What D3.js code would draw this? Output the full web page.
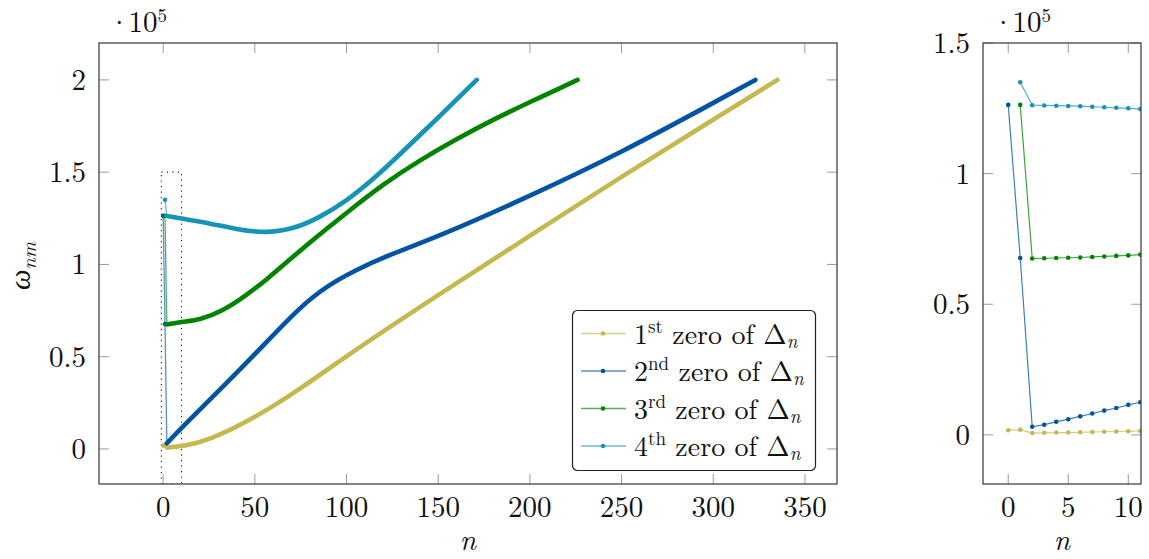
<!DOCTYPE html>
<html><head><meta charset="utf-8">
<script src="https://cdn.jsdelivr.net/npm/d3@7/dist/d3.min.js"></script>
<style>
body{margin:0;background:#fff;}
svg text{font-family:"Latin Modern Roman","CMU Serif","Liberation Serif","DejaVu Serif",serif;fill:#111;}
</style></head>
<body><svg id="chart" width="1149" height="559"></svg>
<script>
// ---- data (values in units of 10^5) ----
const seriesNames = ["1st", "2nd", "3rd", "4th"];
const seriesColors = ["#c4b951", "#0054a3", "#008400", "#1694b8"];
// values at integer n
const zero1Detail = [[0,0.018],[1,0.020],[2,0.007],[3,0.008],[4,0.009],[5,0.009],[6,0.010],[7,0.011],[8,0.012],[9,0.013],[10,0.014],[11,0.015]];
const zero2Detail = [[0,1.263],[1,0.677],[2,0.031],[3,0.039],[4,0.050],[5,0.060],[6,0.071],[7,0.082],[8,0.093],[9,0.103],[10,0.115],[11,0.125]];
const zero3Detail = [[1,1.263],[2,0.675],[3,0.676],[4,0.677],[5,0.678],[6,0.679],[7,0.681],[8,0.683],[9,0.685],[10,0.687],[11,0.690]];
const zero4Detail = [[1,1.350],[2,1.262],[3,1.261],[4,1.260],[5,1.259],[6,1.258],[7,1.256],[8,1.254],[9,1.252],[10,1.250],[11,1.247]];
// values further along n
const zero1Far = [[25,0.046],[50,0.168],[75,0.326],[100,0.505],[150,0.835],[200,1.155],[250,1.477],[300,1.785],[335,2.0]];
const zero2Far = [[25,0.262],[50,0.512],[75,0.775],[90,0.888],[105,0.968],[120,1.040],[150,1.150],[200,1.370],[250,1.607],[300,1.875],[323,2.0]];
const zero3Far = [[20,0.700],[32,0.745],[45,0.830],[57,0.922],[70,1.035],[85,1.160],[100,1.280],[120,1.435],[140,1.565],[160,1.680],[180,1.785],[200,1.880],[226,2.0]];
const zero4Far = [[25,1.224],[40,1.190],[55,1.170],[70,1.188],[85,1.252],[100,1.343],[115,1.465],[130,1.605],[150,1.795],[171,2.0]];

const mainXTicks = [0,50,100,150,200,250,300,350];
const mainYTicks = [0,0.5,1,1.5,2];
const zoomXTicks = [0,5,10];
const zoomYTicks = [0,0.5,1,1.5];
const yTickLabel = {0:"0",0.5:"0.5",1:"1",1.5:"1.5",2:"2"};
const zoomBox = {n0:-1, n1:10, w0:-0.19, w1:1.5};

const details = [zero1Detail, zero2Detail, zero3Detail, zero4Detail];
const fars = [zero1Far, zero2Far, zero3Far, zero4Far];

// ---- drawing ----
const svg = d3.select("#chart");
const FS = 29;

function panel(opts){
  const g = svg.append("g");
  const x = d3.scaleLinear().domain(opts.xd).range([opts.x0, opts.x1]);
  const y = d3.scaleLinear().domain(opts.yd).range([opts.y1, opts.y0]);
  const cid = "clip" + opts.id;
  svg.append("clipPath").attr("id", cid).append("rect")
    .attr("x", opts.x0).attr("y", opts.y0).attr("width", opts.x1-opts.x0).attr("height", opts.y1-opts.y0);
  const tl = 10;
  const tg = g.append("g").attr("stroke", "#9a9a9a").attr("stroke-width", 1);
  opts.xt.forEach(t=>{
    tg.append("line").attr("x1", x(t)).attr("x2", x(t)).attr("y1", opts.y1).attr("y2", opts.y1-tl);
    tg.append("line").attr("x1", x(t)).attr("x2", x(t)).attr("y1", opts.y0).attr("y2", opts.y0+tl);
    g.append("text").attr("x", x(t)).attr("y", opts.y1+33).attr("text-anchor","middle").attr("font-size", FS).text(t);
  });
  opts.yt.forEach(t=>{
    tg.append("line").attr("y1", y(t)).attr("y2", y(t)).attr("x1", opts.x0).attr("x2", opts.x0+tl);
    tg.append("line").attr("y1", y(t)).attr("y2", y(t)).attr("x1", opts.x1).attr("x2", opts.x1-tl);
    g.append("text").attr("x", opts.x0-13).attr("y", y(t)+10).attr("text-anchor","end").attr("font-size", FS).text(yTickLabel[t]);
  });
  const ex = g.append("text").attr("x", opts.x0+9).attr("y", opts.y0-11).attr("font-size", FS);
  ex.append("tspan").text("·");
  ex.append("tspan").attr("dx", -2).text("10");
  ex.append("tspan").attr("dy", -10).attr("font-size", 19).text("5");
  g.append("text").attr("x", (opts.x0+opts.x1)/2).attr("y", 550).attr("text-anchor","middle")
    .attr("font-size", FS).attr("font-style","italic").text("n");
  const plot = g.append("g").attr("clip-path", `url(#${cid})`);
  return {g, x, y, plot, opts};
}

// Main panel
const L = panel({id:"L", x0:99, x1:837, y0:43, y1:484, xd:[-35,367.5], yd:[-0.19,2.2], xt:mainXTicks, yt:mainYTicks});
L.plot.append("rect").attr("x", L.x(zoomBox.n0)).attr("y", L.y(zoomBox.w1))
  .attr("width", L.x(zoomBox.n1)-L.x(zoomBox.n0)).attr("height", L.y(zoomBox.w0)-L.y(zoomBox.w1))
  .attr("fill","none").attr("stroke","#222").attr("stroke-width",1.1).attr("stroke-dasharray","1.2,4.3");

const lineL = d3.line().x(d=>L.x(d[0])).y(d=>L.y(d[1]));
const curveL = d3.line().x(d=>L.x(d[0])).y(d=>L.y(d[1])).curve(d3.curveBasis);
details.forEach((det,i)=>{
  const c = seriesColors[i];
  const head = det.filter(d=>d[0]<=2);
  L.plot.append("path").attr("d", lineL(head)).attr("fill","none").attr("stroke",c).attr("stroke-opacity",0.65).attr("stroke-width",1.3);
  const body = det.filter(d=>d[0]===2 || d[0]===11).concat(fars[i]);
  L.plot.append("path").attr("d", curveL(body)).attr("fill","none").attr("stroke",c).attr("stroke-width",4.6).attr("stroke-linecap","round").attr("stroke-linejoin","round");
  L.plot.selectAll(null).data(head.filter(d=>d[0]<2)).enter().append("circle")
    .attr("cx", d=>L.x(d[0])).attr("cy", d=>L.y(d[1])).attr("r", 2.3).attr("fill", c);
});
L.g.append("rect").attr("x",99).attr("y",43).attr("width",738).attr("height",441).attr("fill","none").attr("stroke","#444").attr("stroke-width",1.3);

// y label
svg.append("text").attr("transform","translate(30,266) rotate(-90)").attr("text-anchor","middle").attr("font-size",29)
  .call(t=>{ t.append("tspan").attr("font-style","italic").text("ω");
             t.append("tspan").attr("font-style","italic").attr("font-size",20).attr("dy",6).text("nm"); });

// Legend
const lg = svg.append("g");
lg.append("rect").attr("x",572.5).attr("y",310.5).attr("width",243).attr("height",160).attr("rx",5)
  .attr("fill","#fff").attr("stroke","#222").attr("stroke-width",1.2);
const sup = ["st","nd","rd","th"];
seriesColors.forEach((c,i)=>{
  const yy = 333.5 + i*37.5;
  lg.append("line").attr("x1",581).attr("x2",626).attr("y1",yy).attr("y2",yy).attr("stroke",c).attr("stroke-opacity",0.65).attr("stroke-width",1.6);
  lg.append("circle").attr("cx",603).attr("cy",yy).attr("r",2.3).attr("fill",c);
  const t = lg.append("text").attr("x",634).attr("y",yy+10).attr("font-size",28);
  t.append("tspan").text(String(i+1));
  t.append("tspan").attr("dy",-11).attr("font-size",19).text(sup[i]);
  t.append("tspan").attr("dy",11).text(" zero of Δ");
  t.append("tspan").attr("dy",4).attr("font-size",19).attr("font-style","italic").text("n");
});

// Zoom panel
const R = panel({id:"R", x0:983, x1:1141, y0:43, y1:484, xd:[-2.1,11.06], yd:[-0.188,1.5], xt:zoomXTicks, yt:zoomYTicks});
const lineR = d3.line().x(d=>R.x(d[0])).y(d=>R.y(d[1]));
details.forEach((det,i)=>{
  const c = seriesColors[i];
  R.plot.append("path").attr("d", lineR(det)).attr("fill","none").attr("stroke",c).attr("stroke-opacity",0.75).attr("stroke-width",1.2);
  R.plot.selectAll(null).data(det).enter().append("circle")
    .attr("cx", d=>R.x(d[0])).attr("cy", d=>R.y(d[1])).attr("r", 2.3).attr("fill", c);
});
R.g.append("rect").attr("x",983).attr("y",43).attr("width",158).attr("height",441).attr("fill","none").attr("stroke","#444").attr("stroke-width",1.3);
</script></body></html>
